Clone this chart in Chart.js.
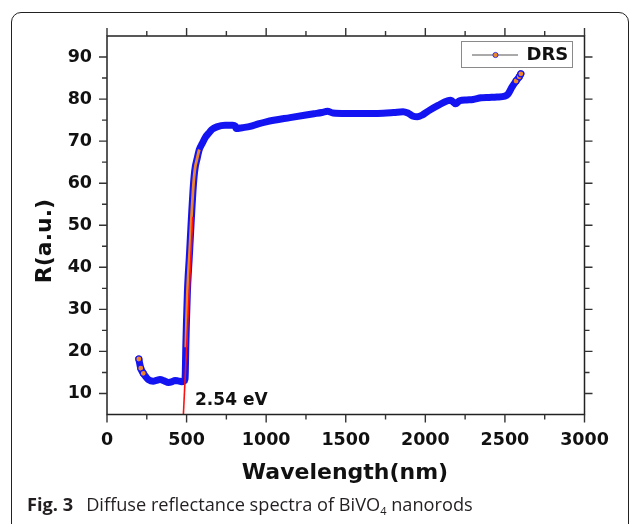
<!DOCTYPE html>
<html><head><meta charset="utf-8">
<script src="https://cdn.jsdelivr.net/npm/chart.js@4.4.0/dist/chart.umd.min.js"></script>
<style>
html,body{margin:0;padding:0;background:#fff;}
#wrap{position:relative;width:630px;height:524px;overflow:hidden;}
#frame{position:absolute;left:11px;top:12px;width:618px;height:600px;border:1.3px solid #222;border-radius:10px;box-sizing:border-box;}
canvas{position:absolute;left:0;top:0;}
#cap{position:absolute;left:27px;top:493px;font-family:"Open Sans";font-size:18.2px;color:#231f20;white-space:nowrap;line-height:22px;}
#cap b{font-weight:700;margin-right:13px;}
#cap sub{font-size:11px;vertical-align:-4px;line-height:0;}
</style></head><body>
<div id="wrap"><div id="frame"></div><canvas id="c" width="630" height="524"></canvas>
<div id="cap"><b>Fig. 3</b>Diffuse reflectance spectra of BiVO<sub>4</sub> nanorods</div></div>
<script>
// ---- data ----
const wavelength = [200,212,228,245,260,291,310,333,360,386,410,428,445,470,485,490,492,495,500,505,510,516,525,533,540,547,555,564,580,599,620,637,660,690,742,790,805,812,850,900,950,1000,1150,1300,1350,1385,1420,1500,1600,1700,1800,1860,1890,1920,1950,1980,2020,2080,2140,2160,2190,2215,2260,2300,2350,2400,2450,2500,2520,2545,2570,2590,2600];
const reflectance = [18.2,16.0,14.8,13.9,13.3,12.9,13.1,13.3,13.0,12.6,12.8,13.1,13.0,12.8,13.0,13.4,15.0,21.0,28.0,34.0,38.0,41.7,48.0,53.6,58.0,61.5,64.0,65.5,68.0,69.5,71.0,71.8,72.8,73.4,73.8,73.8,73.6,73.0,73.2,73.5,74.1,74.6,75.6,76.5,76.8,77.1,76.7,76.6,76.6,76.6,76.8,77.0,76.7,76.0,75.8,76.2,77.2,78.5,79.6,79.7,78.9,79.6,79.8,79.9,80.3,80.4,80.5,80.7,81.2,82.9,84.3,85.3,86.0];
const tangentWavelength = [480, 539];
const tangentReflectance = [5, 52];
const xTickValues = [0,500,1000,1500,2000,2500,3000];
const xMinorValues = [250,750,1250,1750,2250,2750];
const yTickValues = [10,20,30,40,50,60,70,80,90];
const yMinorValues = [15,25,35,45,55,65,75,85];
const seriesLabel = 'DRS';
const bandGapLabel = '2.54 eV';

const BLUE = '#1414f2', ORANGE = '#f0862a', RED = '#ff1010', INK = '#111';
const pts = wavelength.map((x, i) => ({x, y: reflectance[i]}));
const tangent = tangentWavelength.map((x, i) => ({x, y: tangentReflectance[i]}));

const decor = {
  id: 'decor',
  afterDraw(chart) {
    const {ctx, chartArea: a, scales: {x, y}} = chart;
    ctx.save();
    ctx.strokeStyle = '#222'; ctx.lineWidth = 1.5;
    ctx.strokeRect(a.left, a.top, a.right - a.left, a.bottom - a.top);
    ctx.strokeStyle = '#333'; ctx.lineWidth = 1.4;
    const tick = (vals, len) => {
      vals.forEach(v => {
        const px = x.getPixelForValue(v);
        ctx.beginPath();
        ctx.moveTo(px, a.bottom); ctx.lineTo(px, a.bottom + len);
        ctx.moveTo(px, a.top); ctx.lineTo(px, a.top - len);
        ctx.stroke();
      });
    };
    const tickY = (vals, len) => {
      vals.forEach(v => {
        const py = y.getPixelForValue(v);
        ctx.beginPath();
        ctx.moveTo(a.left, py); ctx.lineTo(a.left - len, py);
        ctx.moveTo(a.right, py); ctx.lineTo(a.right + len, py);
        ctx.stroke();
      });
    };
    tick(xTickValues, 8); tick(xMinorValues, 5);
    tickY(yTickValues, 8); tickY(yMinorValues, 5);
    ctx.fillStyle = INK;
    ctx.font = 'bold 22px "DejaVu Sans"';
    ctx.textAlign = 'center'; ctx.textBaseline = 'middle';
    ctx.fillText('Wavelength(nm)', 345, 473);
    ctx.save();
    ctx.translate(45, 241); ctx.rotate(-Math.PI / 2);
    ctx.fillText('R(a.u.)', 0, 0);
    ctx.restore();
    ctx.font = 'bold 17px "DejaVu Sans"';
    ctx.textAlign = 'left';
    ctx.fillText(bandGapLabel, x.getPixelForValue(553), y.getPixelForValue(8.2));
    ctx.strokeStyle = '#8a8a8a'; ctx.lineWidth = 1;
    ctx.strokeRect(461.5, 41.5, 111, 26);
    ctx.strokeStyle = '#555'; ctx.lineWidth = 1;
    ctx.beginPath(); ctx.moveTo(472, 55); ctx.lineTo(518, 55); ctx.stroke();
    ctx.beginPath(); ctx.arc(495.5, 55, 2.6, 0, Math.PI * 2);
    ctx.fillStyle = ORANGE; ctx.fill();
    ctx.strokeStyle = BLUE; ctx.lineWidth = 0.8; ctx.stroke();
    ctx.fillStyle = INK; ctx.font = 'bold 18px "DejaVu Sans"';
    ctx.textAlign = 'left';
    ctx.fillText(seriesLabel, 526.5, 55.5);
    ctx.restore();
  }
};

new Chart(document.getElementById('c'), {
  type: 'scatter',
  data: {
    datasets: [
      {
        label: seriesLabel, data: pts, showLine: true,
        borderColor: BLUE, borderWidth: 7, cubicInterpolationMode: 'monotone',
        borderCapStyle: 'round', borderJoinStyle: 'round',
        pointRadius: c => (c.raw && (c.raw.x <= 230 || c.raw.x >= 2550)) ? 3 : 0,
        pointBackgroundColor: ORANGE, pointBorderColor: BLUE, pointBorderWidth: 1.2,
        order: 3
      },
      {
        label: 'core', data: pts, showLine: true, borderWidth: 2.8,
        cubicInterpolationMode: 'monotone', pointRadius: 0,
        borderColor: 'rgba(0,0,0,0)',
        segment: { borderColor: c => (c.p0.parsed.x >= 495 && c.p1.parsed.x <= 580) ? ORANGE : 'rgba(0,0,0,0)' },
        order: 2
      },
      {
        label: 'tangent', data: tangent, showLine: true,
        borderColor: RED, borderWidth: 1.6, pointRadius: 0, order: 1
      }
    ]
  },
  options: {
    responsive: false, animation: false, events: [],
    layout: { padding: { left: 0, right: 45.5, top: 36, bottom: 0 } },
    plugins: { legend: { display: false }, tooltip: { enabled: false } },
    scales: {
      x: {
        type: 'linear', min: 0, max: 3000,
        afterBuildTicks: s => { s.ticks = xTickValues.map(v => ({value: v})); },
        afterFit: s => { s.height = 109.5; },
        grid: { display: false, drawTicks: false, tickLength: 0 },
        border: { display: false },
        ticks: { padding: 15, color: INK, callback: v => String(v), font: { family: 'DejaVu Sans', weight: 'bold', size: 17.5 }, maxRotation: 0 }
      },
      y: {
        type: 'linear', min: 5, max: 95,
        afterBuildTicks: s => { s.ticks = yTickValues.map(v => ({value: v})); },
        afterFit: s => { s.width = 107; },
        grid: { display: false, drawTicks: false, tickLength: 0 },
        border: { display: false },
        ticks: { padding: 15, color: INK, callback: v => String(v), font: { family: 'DejaVu Sans', weight: 'bold', size: 17.5 } }
      }
    }
  },
  plugins: [decor]
});
</script>
</body></html>
